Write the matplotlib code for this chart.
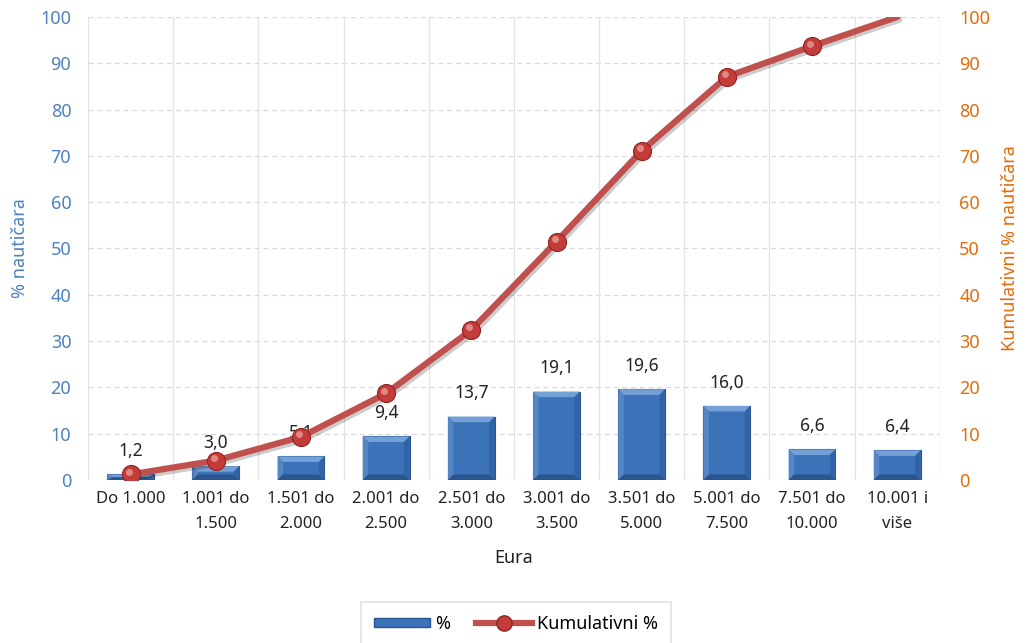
import matplotlib
matplotlib.use("Agg")
import matplotlib.pyplot as plt
import matplotlib.patheffects as pe
import matplotlib.transforms as mtransforms
from matplotlib.patches import Polygon
from matplotlib.lines import Line2D
from matplotlib.patches import Patch
import numpy as np

plt.rcParams['font.family'] = ['Noto Sans', 'DejaVu Sans']

categories = ["Do 1.000", "1.001 do\n1.500", "1.501 do\n2.000", "2.001 do\n2.500",
              "2.501 do\n3.000", "3.001 do\n3.500", "3.501 do\n5.000", "5.001 do\n7.500",
              "7.501 do\n10.000", "10.001 i\nviše"]
percent = [1.2, 3.0, 5.1, 9.4, 13.7, 19.1, 19.6, 16.0, 6.6, 6.4]
cumulative = [1.2, 4.2, 9.3, 18.7, 32.4, 51.5, 71.1, 87.1, 93.7, 100.0]
percent_labels = ["1,2", "3,0", "5,1", "9,4", "13,7", "19,1", "19,6", "16,0", "6,6", "6,4"]

blue_txt = "#4F81BD"
orange_txt = "#E46C0A"
bar_face = "#3C72B8"
bar_edge = "#2B5591"
line_col = "#C0504D"

fig = plt.figure(figsize=(10.26, 6.43), dpi=100)
ax = fig.add_axes([0.0858, 0.2535, 0.8302, 0.7201])
ax2 = ax.twinx()

x = np.arange(len(categories))
bars = ax.bar(x, percent, width=0.55, color=bar_face, edgecolor=bar_edge, linewidth=0.8, zorder=3)

# bevel decoration
for b in bars:
    x0, w, h = b.get_x(), b.get_width(), b.get_height()
    bx = 0.065
    by = min(1.2, h / 2)
    x1 = x0 + w
    ax.add_patch(Polygon([[x0, h], [x1, h], [x1 - bx, h - by], [x0 + bx, h - by]],
                         closed=True, facecolor="#74A0D8", edgecolor='none', zorder=4))
    ax.add_patch(Polygon([[x0, 0], [x0, h], [x0 + bx, h - by], [x0 + bx, by]],
                         closed=True, facecolor="#5486C6", edgecolor='none', zorder=4))
    ax.add_patch(Polygon([[x1, 0], [x1, h], [x1 - bx, h - by], [x1 - bx, by]],
                         closed=True, facecolor="#3263A6", edgecolor='none', zorder=4))
    ax.add_patch(Polygon([[x0, 0], [x1, 0], [x1 - bx, by], [x0 + bx, by]],
                         closed=True, facecolor="#2A568F", edgecolor='none', zorder=4))

for xi, v, lab in zip(x, percent, percent_labels):
    ax.text(xi, v + 5.0, lab, ha='center', va='center', fontsize=12.5, color="#222222", zorder=7)

ax.set_xlim(-0.5, len(categories) - 0.5)
ax.set_ylim(0, 100)
ax2.set_ylim(0, 100)
ax.set_yticks(range(0, 101, 10))
ax2.set_yticks(range(0, 101, 10))

for yv in range(0, 101, 10):
    ax.axhline(yv, color="#D9D9D9", linestyle=(0, (4, 3)), linewidth=0.9, zorder=1)
for xv in np.arange(-0.5, len(categories) + 0.5, 1.0):
    ax.axvline(xv, color="#E3E3E3", linewidth=0.9, zorder=1)

for a in (ax, ax2):
    for s in a.spines.values():
        s.set_visible(False)

ax.set_xticks(x)
ax.set_xticklabels(categories, fontsize=12, color="#222222", linespacing=1.75)
ax.tick_params(axis='x', length=0, pad=8)
ax.tick_params(axis='y', length=0, labelsize=13, labelcolor=blue_txt, pad=12)
ax2.tick_params(axis='y', length=0, labelsize=13, labelcolor=orange_txt, pad=14)

ax.set_xlabel("Eura", fontsize=13, color="#222222", labelpad=12)
ax.set_ylabel("% nautičara", fontsize=13, color=blue_txt, labelpad=8)
ax2.set_ylabel("Kumulativni % nautičara", fontsize=13, color=orange_txt, labelpad=8)

ax2.plot(x, cumulative, color=line_col, linewidth=4.5, zorder=5, solid_capstyle='round',
         path_effects=[pe.SimpleLineShadow(offset=(1.5, -2), alpha=0.2), pe.Normal()])
ax2.plot(x[:-1], cumulative[:-1], linestyle='none', marker='o', markersize=13,
         markerfacecolor="#C43C39", markeredgecolor="#8E2523", markeredgewidth=0.8, zorder=6)
hl = mtransforms.offset_copy(ax2.transData, fig=fig, x=-2, y=2.5, units='dots')
ax2.plot(x[:-1], cumulative[:-1], linestyle='none', marker='o', markersize=5,
         markerfacecolor="#EBA3A1", markeredgecolor='none', alpha=0.75, zorder=6,
         transform=hl)

ax2.patch.set_visible(False)

handles = [Patch(facecolor=bar_face, edgecolor=bar_edge),
           Line2D([0], [0], color=line_col, linewidth=4.5, marker='o', markersize=11,
                  markerfacecolor="#C43C39", markeredgecolor="#8E2523")]
leg = fig.legend(handles, ["%", "Kumulativni %"], loc='lower center',
                 bbox_to_anchor=(0.503, -0.018), ncol=2, fontsize=13, frameon=True,
                 fancybox=False, edgecolor="#D9D9D9", handlelength=3.1, handleheight=0.45,
                 handletextpad=0.3, columnspacing=1.4, borderpad=0.7, borderaxespad=0.5)
leg.get_frame().set_linewidth(1.2)

fig.savefig("out.png", dpi=100)
